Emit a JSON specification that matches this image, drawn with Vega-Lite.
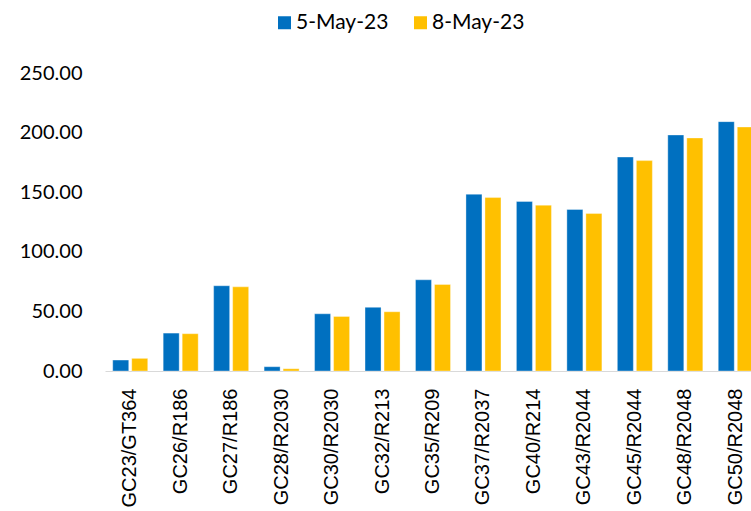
{
  "$schema": "https://vega.github.io/schema/vega-lite/v6.json",
  "autosize": "none",
  "width": 656,
  "height": 298,
  "padding": {"left": 105, "top": 73, "right": 0, "bottom": 140},
  "background": "#ffffff",
  "config": {"view": {"stroke": null}},
  "data": {
    "values": [
      {"category": "GC23/GT364", "date": "5-May-23", "value": 9.2},
      {"category": "GC23/GT364", "date": "8-May-23", "value": 10.6},
      {"category": "GC26/R186", "date": "5-May-23", "value": 31.8},
      {"category": "GC26/R186", "date": "8-May-23", "value": 31.3},
      {"category": "GC27/R186", "date": "5-May-23", "value": 71.5},
      {"category": "GC27/R186", "date": "8-May-23", "value": 70.6},
      {"category": "GC28/R2030", "date": "5-May-23", "value": 3.6},
      {"category": "GC28/R2030", "date": "8-May-23", "value": 1.9},
      {"category": "GC30/R2030", "date": "5-May-23", "value": 48.0},
      {"category": "GC30/R2030", "date": "8-May-23", "value": 45.8},
      {"category": "GC32/R213", "date": "5-May-23", "value": 53.4},
      {"category": "GC32/R213", "date": "8-May-23", "value": 49.7},
      {"category": "GC35/R209", "date": "5-May-23", "value": 76.5},
      {"category": "GC35/R209", "date": "8-May-23", "value": 72.6},
      {"category": "GC37/R2037", "date": "5-May-23", "value": 148.3},
      {"category": "GC37/R2037", "date": "8-May-23", "value": 145.5},
      {"category": "GC40/R214", "date": "5-May-23", "value": 142.2},
      {"category": "GC40/R214", "date": "8-May-23", "value": 139.1},
      {"category": "GC43/R2044", "date": "5-May-23", "value": 135.5},
      {"category": "GC43/R2044", "date": "8-May-23", "value": 132.1},
      {"category": "GC45/R2044", "date": "5-May-23", "value": 179.5},
      {"category": "GC45/R2044", "date": "8-May-23", "value": 176.5},
      {"category": "GC48/R2048", "date": "5-May-23", "value": 198.0},
      {"category": "GC48/R2048", "date": "8-May-23", "value": 195.5},
      {"category": "GC50/R2048", "date": "5-May-23", "value": 209.2},
      {"category": "GC50/R2048", "date": "8-May-23", "value": 204.7}
    ]
  },
  "mark": {"type": "bar", "stroke": "#ffffff", "strokeOpacity": 0.35, "strokeWidth": 1},
  "encoding": {
    "x": {
      "field": "category",
      "type": "nominal",
      "sort": null,
      "title": null,
      "scale": {"paddingInner": 0.306, "paddingOuter": 0.153},
      "axis": {
        "labelAngle": -90,
        "labelFont": "Liberation Sans",
        "labelFontSize": 20,
        "labelColor": "#000000",
        "ticks": false,
        "tickSize": 0,
        "labelPadding": 17,
        "domainColor": "#D9D9D9",
        "domainWidth": 1,
        "grid": false,
        "labelLimit": 200
      }
    },
    "xOffset": {
      "field": "date",
      "type": "nominal",
      "scale": {"paddingInner": 0.158, "paddingOuter": 0}
    },
    "y": {
      "field": "value",
      "type": "quantitative",
      "title": null,
      "scale": {"domain": [0, 250], "nice": false},
      "axis": {
        "values": [0, 50, 100, 150, 200, 250],
        "format": ".2f",
        "labelFont": "Lato",
        "labelFontSize": 20,
        "labelColor": "#000000",
        "ticks": false,
        "tickSize": 0,
        "labelPadding": 23,
        "domain": false,
        "grid": false
      }
    },
    "color": {
      "field": "date",
      "type": "nominal",
      "scale": {"domain": ["5-May-23", "8-May-23"], "range": ["#0070C0", "#FFC000"]},
      "legend": {
        "title": null,
        "orient": "none",
        "legendX": 169,
        "legendY": -61,
        "direction": "horizontal",
        "symbolType": "square",
        "symbolSize": 169,
        "symbolStrokeWidth": 0,
        "labelFont": "Lato",
        "labelFontSize": 21,
        "labelColor": "#000000",
        "labelOffset": 1,
        "columnPadding": 21,
        "padding": 0,
        "offset": 0
      }
    }
  }
}
